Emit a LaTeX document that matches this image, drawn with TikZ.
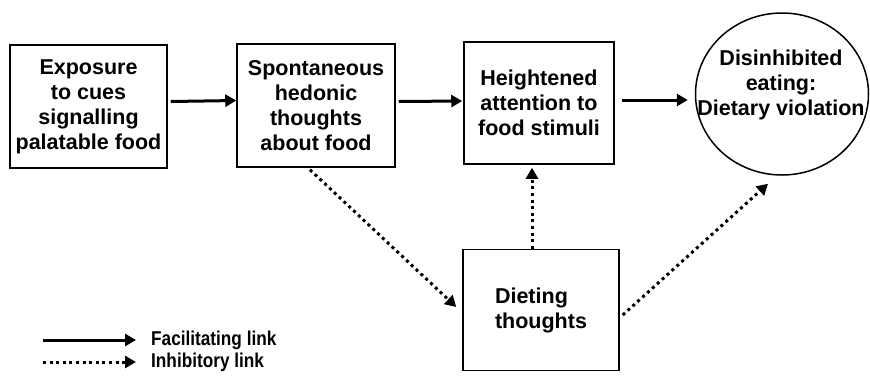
\documentclass[tikz,border=0pt]{standalone}
\usepackage{fontspec}
\setmainfont{Liberation Sans}
\newfontfamily\legendfont[FakeStretch=0.86]{Liberation Sans}
\usetikzlibrary{arrows.meta,shapes.geometric}
\tikzset{
  box/.style={draw, line width=1.5pt, align=center, inner sep=0pt,
    font=\bfseries\fontsize{21.5}{25}\selectfont},
  facil/.style={line width=3pt, -{Triangle[length=11pt,width=12pt]}},
  inhib/.style={line width=3pt, dash pattern=on 3pt off 3.6pt,
    -{Triangle[length=11pt,width=12pt]}},
  legendtext/.style={anchor=west, inner sep=0pt,
    font=\legendfont\bfseries\fontsize{20}{22}\selectfont}
}
\begin{document}
\begin{tikzpicture}[x=1pt, y=-1pt]
  \useasboundingbox (0,0) rectangle (870,376);
  \node[box, minimum width=157pt, minimum height=123pt] (expo) at (88.5,106.5)
    {Exposure\\to cues\\signalling\\palatable food};
  \node[box, minimum width=158pt, minimum height=123pt] (spont) at (316,105.5)
    {Spontaneous\\hedonic\\thoughts\\about food};
  \node[box, minimum width=150pt, minimum height=122pt] (atten) at (539,103)
    {Heightened\\attention to\\food stimuli};
  \node[draw, ellipse, line width=1.5pt, minimum width=173pt, minimum height=162pt,
    inner sep=0pt] (eat) at (782,94) {};
  \node[align=center, inner sep=0pt, font=\bfseries\fontsize{21.5}{25}\selectfont]
    (eattext) at (781,85) {Disinhibited\\eating:\\Dietary violation};
  \node[box, align=left, minimum width=156pt, minimum height=121pt] (diet) at (541,310)
    {Dieting\\thoughts};
  \draw[facil] ([xshift=3pt,yshift=5pt]expo.east) -- ([yshift=5pt]spont.west);
  \draw[facil] ([xshift=3pt,yshift=4pt]spont.east) -- ([xshift=-1pt,yshift=2pt]atten.west);
  \draw[facil] ([xshift=7pt,yshift=3pt]atten.east) -- ([xshift=-7pt,yshift=-6pt]eat.west);
  \draw[inhib] ([xshift=-6pt,yshift=-2pt]spont.south) -- ([xshift=-6pt,yshift=3pt]diet.west);
  \draw[inhib] ([xshift=-9pt]diet.north) -- ([xshift=-7pt,yshift=-3pt]atten.south);
  \draw[inhib] ([xshift=3pt,yshift=-5pt]diet.east) -- ([xshift=-14pt,yshift=-8pt]eat.south);
  \coordinate (facstart) at (43,340);
  \coordinate (inhstart) at (43,362);
  \node[legendtext] (factext) at (151,340) {Facilitating link};
  \node[legendtext] (inhtext) at (151,362) {Inhibitory link};
  \draw[facil] (facstart) -- ([xshift=-15pt]factext.west);
  \draw[inhib] (inhstart) -- ([xshift=-15pt]inhtext.west);
\end{tikzpicture}
\end{document}
